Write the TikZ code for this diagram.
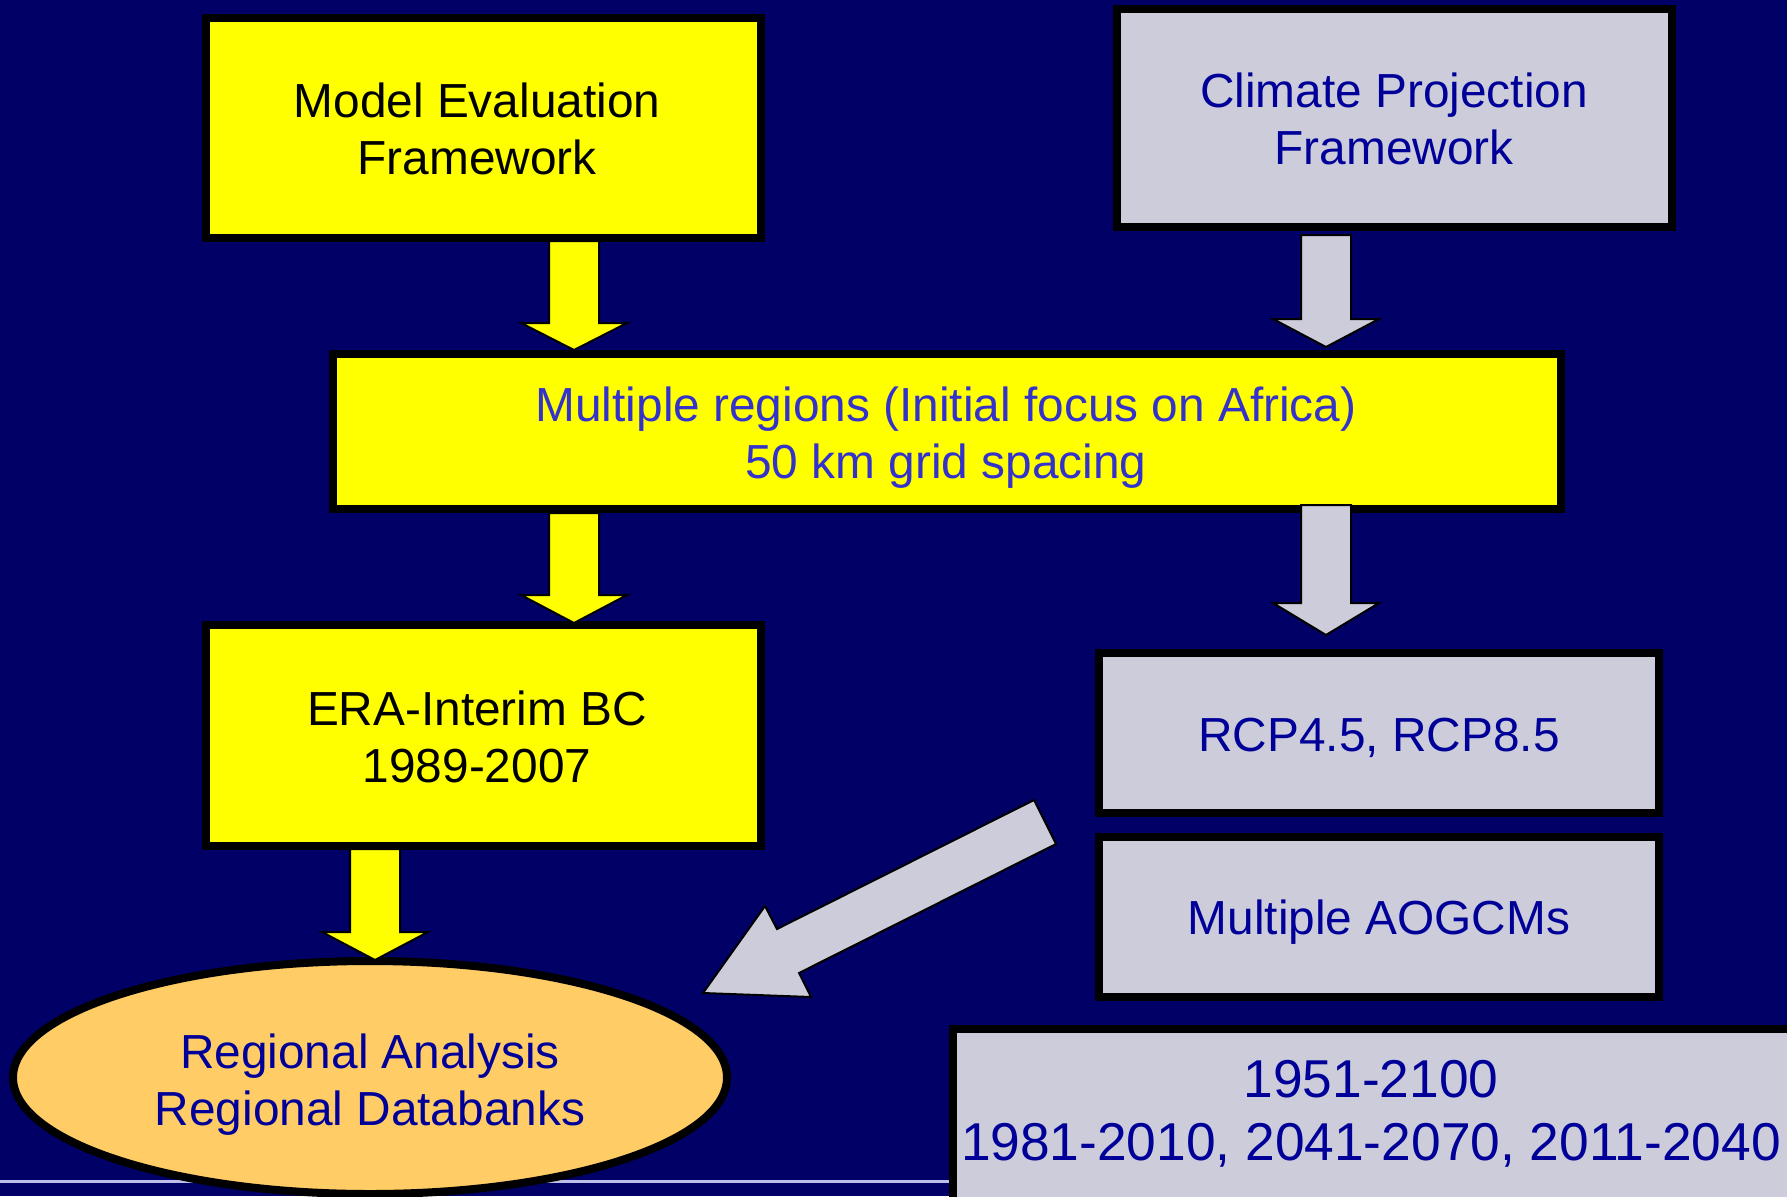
\documentclass[tikz,border=0pt]{standalone}
\usepackage{fontspec}
\setmainfont{Liberation Sans}
\usetikzlibrary{shapes.geometric,calc}
\definecolor{bgnavy}{RGB}{0,0,102}
\definecolor{boxgray}{RGB}{204,204,218}
\definecolor{yel}{RGB}{255,255,0}
\definecolor{ellfill}{RGB}{255,204,102}
\definecolor{txtblue}{RGB}{0,0,153}
\definecolor{txtmid}{RGB}{51,51,204}
\definecolor{rulecol}{RGB}{190,190,235}
\tikzset{
  ybox/.style={draw=black, line width=8pt, fill=yel, rectangle, inner sep=0pt},
  gbox/.style={draw=black, line width=8pt, fill=boxgray, rectangle, inner sep=0pt},
  lbl/.style={align=center, font=\fontsize{47.8}{57}\selectfont, inner sep=0pt},
  blk/.style={draw=black, line width=2pt, line join=miter},
}
\newcommand\bdarrow[5]{% x, ytop, ybase, ytip, fill
  \draw[blk, fill=#5] ($(#1,#2)+(-25,0)$) -- ++(50,0) -- ($(#1,#3)+(25,0)$) -- ($(#1,#3)+(53,0)$)
    -- (#1,#4) -- ($(#1,#3)+(-53,0)$) -- ($(#1,#3)+(-25,0)$) -- cycle;}
\begin{document}
\begin{tikzpicture}[x=1pt,y=-1pt]
\useasboundingbox (0,0) rectangle (1787,1196);
\clip (0,0) rectangle (1787,1196);
\fill[bgnavy] (0,0) rectangle (1787,1196);
% bottom rule
\draw[rulecol, line width=3pt] (0,1181) -- (960,1181);

% boxes
\node[ybox, minimum width=555pt, minimum height=220pt] (meval) at (483.5,128) {};
\node[lbl, text=black] at (477,128.5) {Model Evaluation\\Framework};

\node[gbox, minimum width=555pt, minimum height=218pt] (cproj) at (1394.5,118) {};
\node[lbl, text=txtblue] at (1394,118.5) {Climate Projection\\Framework};

\node[ybox, minimum width=1228pt, minimum height=155pt] (multi) at (947,431.5) {};
\node[lbl, text=txtmid] at (946,437.5) {Multiple regions (Initial focus on Africa)\\50 km grid spacing};

\node[ybox, minimum width=555pt, minimum height=221pt] (era) at (483.5,735.5) {};
\node[lbl, text=black] at (477,737) {ERA-Interim BC\\1989-2007};

\node[gbox, minimum width=560pt, minimum height=160pt] (rcp) at (1379,733) {};
\node[lbl, text=txtblue] at (1379,737.5) {RCP4.5, RCP8.5};

\node[gbox, minimum width=560pt, minimum height=160pt] (aogcm) at (1379,917) {};
\node[lbl, text=txtblue] at (1379,922) {Multiple AOGCMs};

\node[gbox, minimum width=845pt, minimum height=177pt] (years) at (1375.5,1117.5) {};
\node[lbl, text=txtblue, font=\fontsize{53.3}{63}\selectfont] at (1371,1113.5) {1951-2100\\1981-2010, 2041-2070, 2011-2040};

\node[draw=black, line width=8pt, fill=ellfill, ellipse, minimum width=714pt, minimum height=233pt, inner sep=0pt] (region) at (370,1077.5) {};
\node[lbl, text=txtblue] at (370,1084.5) {Regional Analysis\\Regional Databanks};

% block arrows
\bdarrow{574}{241}{323}{350}{yel}
\bdarrow{1326}{235}{319}{347}{boxgray}
\bdarrow{574}{513}{595}{623}{yel}
\bdarrow{1326}{505}{603}{635}{boxgray}
\bdarrow{375}{849}{932}{960}{yel}
% diagonal arrow from RCP toward the ellipse
\draw[blk, fill=boxgray] (1034,800) -- (1056,844) -- (799,973) -- (811,997) -- (703,993) -- (765,906) -- (777,929) -- cycle;
\end{tikzpicture}
\end{document}
